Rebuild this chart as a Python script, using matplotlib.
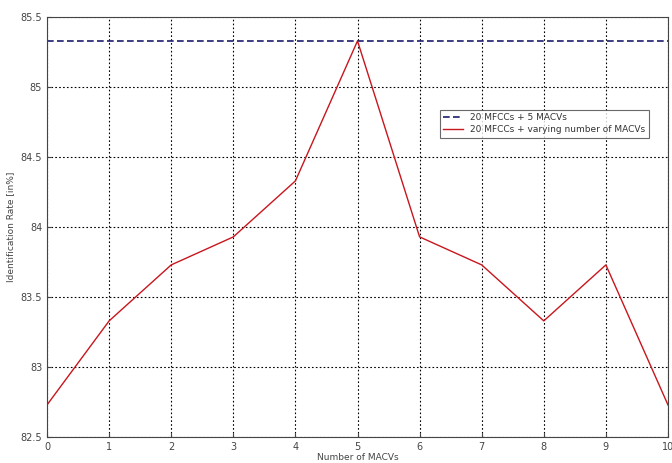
import numpy as np
import matplotlib.pyplot as plt

# number of MACVs vs identification rate
n_macvs = [0, 1, 2, 3, 4, 5, 6, 7, 8, 9, 10]
rate_varying = [82.73, 83.33, 83.73, 83.93, 84.33, 85.33, 83.93, 83.73, 83.33, 83.73, 82.73]
rate_fixed = 85.33

fig = plt.figure(figsize=(6.72, 4.63), dpi=100)
ax = fig.add_axes([0.070, 0.056, 0.924, 0.907])

ax.axhline(rate_fixed, color='#1c1c6e', linestyle=(0, (4, 2)), linewidth=1.2,
           label='20 MFCCs + 5 MACVs')
ax.plot(n_macvs, rate_varying, color='#c8161d', linewidth=1.0,
        label='20 MFCCs + varying number of MACVs')

ax.set_xlim(0, 10)
ax.set_ylim(82.5, 85.5)
ax.set_xticks(n_macvs)
ax.set_yticks([82.5, 83, 83.5, 84, 84.5, 85, 85.5])
ax.set_yticklabels(['82.5', '83', '83.5', '84', '84.5', '85', '85.5'])

ax.grid(True, color='black', linestyle=(0, (1.5, 2)), linewidth=0.8)
ax.tick_params(labelsize=7, colors='#444444', length=3, direction='in')
for s in ax.spines.values():
    s.set_color('#444444')

ax.set_xlabel('Number of MACVs', fontsize=6.5, color='#444444', labelpad=1)
ax.set_ylabel('Identification Rate [in%]', fontsize=6.5, color='#444444', labelpad=4)

leg = ax.legend(loc='upper left', bbox_to_anchor=(0.625, 0.79), fontsize=6.5,
                frameon=True, fancybox=False, edgecolor='#444444',
                handlelength=2.2, borderpad=0.4, labelspacing=0.3)
leg.get_frame().set_linewidth(0.8)
for t in leg.get_texts():
    t.set_color('#333333')

fig.savefig('out.png', dpi=100)
